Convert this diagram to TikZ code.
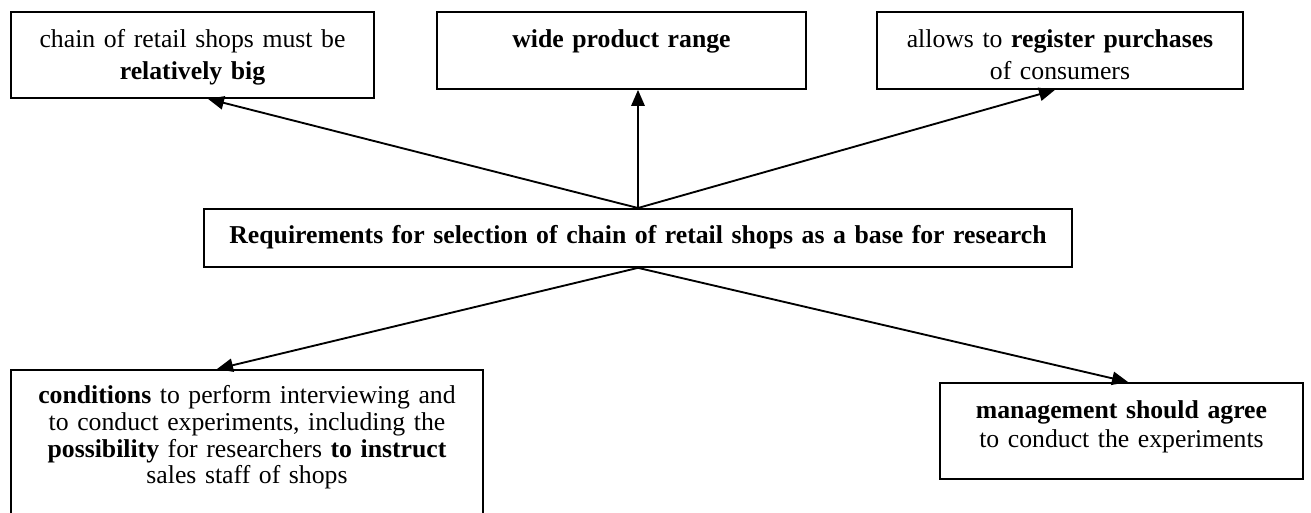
\documentclass[tikz,border=0pt]{standalone}
\usepackage{fontspec}
\setmainfont{Liberation Serif}
\usetikzlibrary{arrows.meta}
\begin{document}
\begin{tikzpicture}[x=0.75pt,y=-0.75pt,
  box/.style={draw=black,line width=1.4pt,inner xsep=0pt,inner ysep=0pt,anchor=north,align=center,
    font=\fontsize{19.3pt}{24pt}\selectfont},
  arr/.style={line width=1.4pt,-{Triangle[length=12pt,width=10pt]}}]
\useasboundingbox (0,0) rectangle (1311,513);
\clip (0,0) rectangle (1311,513);
\fill[white] (0,0) rectangle (1311,513);

\node[box,text width=272.25pt,text height=27pt,text depth=37.5pt] (tl) at (192.5,11)
  {chain of retail shops must be\\\textbf{relatively big}};
\node[box,text width=276.75pt,text height=27pt,text depth=30.75pt] (tm) at (621.5,11)
  {\textbf{wide product range}};
\node[box,text width=274.5pt,text height=27pt,text depth=30.75pt] (tr) at (1060,11)
  {allows to \textbf{register purchases}\\of consumers};
\node[box,text width=651pt,text height=26.25pt,text depth=17.25pt] (req) at (638,208)
  {\textbf{Requirements for selection of chain of retail shops as a base for research}};
\node[box,text width=354pt,text height=25.5pt,text depth=102.75pt,
  font=\fontsize{19.3pt}{20pt}\selectfont] (bl) at (247,369)
  {\textbf{conditions} to perform interviewing and\\to conduct experiments, including the\\\textbf{possibility} for researchers \textbf{to instruct}\\sales staff of shops};
\node[box,text width=272.25pt,text height=27pt,text depth=45pt,
  font=\fontsize{19.3pt}{21.75pt}\selectfont] (br) at (1121.5,382)
  {\textbf{management should agree}\\to conduct the experiments};

\draw[arr] (req.north) -- ([xshift=11.6pt]tl.south);
\draw[arr] (req.north) -- (req.north |- tm.south);
\draw[arr] (req.north) -- ([xshift=-3.75pt]tr.south);
\draw[arr] (req.south) -- ([xshift=-22.5pt]bl.north);
\draw[arr] (req.south) -- ([xshift=4.9pt]br.north);
\end{tikzpicture}
\end{document}
